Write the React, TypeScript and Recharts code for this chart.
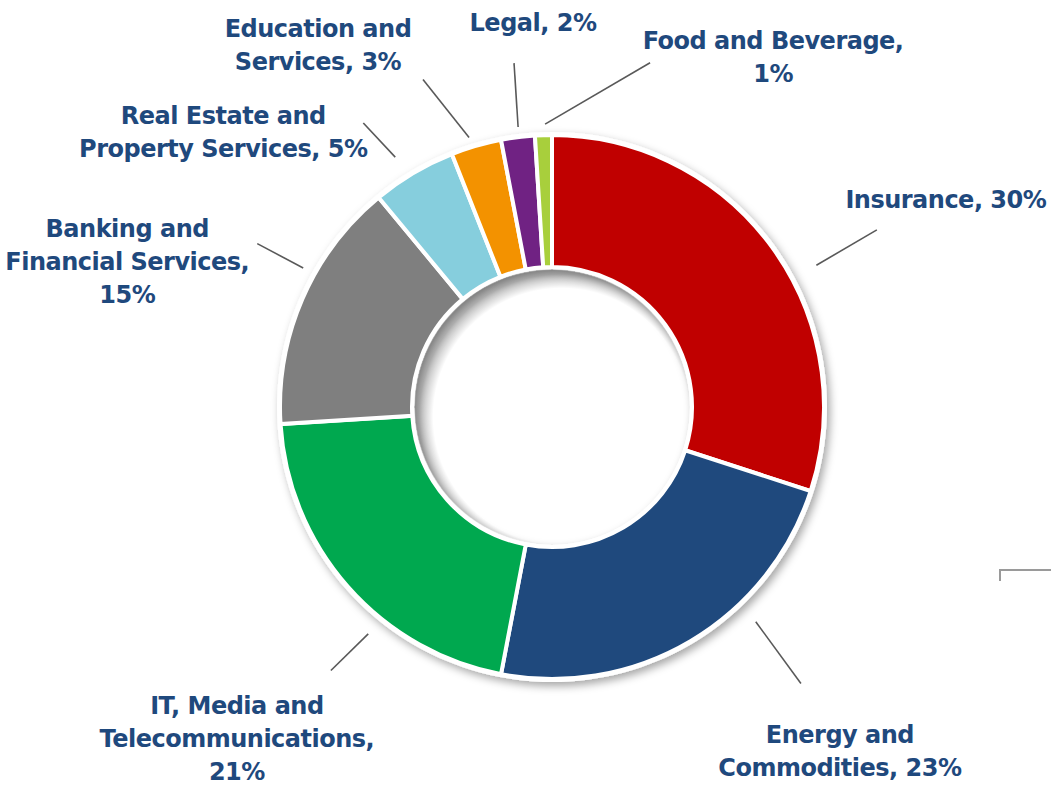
import { PieChart, Pie, Cell } from 'recharts'

const sectors = [
  'Insurance',
  'Energy and Commodities',
  'IT, Media and Telecommunications',
  'Banking and Financial Services',
  'Real Estate and Property Services',
  'Education and Services',
  'Legal',
  'Food and Beverage',
]
const shares = [30, 23, 21, 15, 5, 3, 2, 1]
// how Excel wrapped each label
const labelLines = [
  ['Insurance, 30%'],
  ['Energy and', 'Commodities, 23%'],
  ['IT, Media and', 'Telecommunications,', '21%'],
  ['Banking and', 'Financial Services,', '15%'],
  ['Real Estate and', 'Property Services, 5%'],
  ['Education and', 'Services, 3%'],
  ['Legal, 2%'],
  ['Food and Beverage,', '1%'],
]
const colors = ['#C00000', '#1F497D', '#00A84F', '#7F7F7F', '#86CEDD', '#F39200', '#702283', '#A8CF3C']

// leader lines: angle (deg clockwise from 12 o'clock) + gap beyond outer radius, text offset from line end
const leaders = [
  { a1: 61.8, g1: 28, a2: 61.4, g2: 98, dx: 69, dy: -30 },
  { a1: 136.5, g1: 24, a2: 138, g2: 100, dx: 39, dy: 68 },
  { a1: 219, g1: 20, a2: 220, g2: 72, dx: -94, dy: 68 },
  { a1: 299.2, g1: 13, a2: 299, g2: 65, dx: -130, dy: 18 },
  { a1: 327.9, g1: 23, a2: 326.4, g2: 69, dx: -140, dy: 10 },
  { a1: 342.9, g1: 10, a2: 338.5, g2: 80, dx: -105, dy: -34 },
  { a1: 353.1, g1: 10, a2: 353.7, g2: 74, dx: 19, dy: -40 },
  { a1: 358.6, g1: 11, a2: 15.9, g2: 86, dx: 123, dy: -5 },
]

const data = sectors.map((name, i) => ({ name, value: shares[i] }))
const ring = [{ name: 'ring', value: 1 }]

const LINE_H = 33

function polar(cx: number, cy: number, r: number, deg: number) {
  const rad = (deg * Math.PI) / 180
  return { x: cx + r * Math.sin(rad), y: cy - r * Math.cos(rad) }
}

function renderLabel(props: any) {
  const { cx, cy, outerRadius, index } = props
  const l = leaders[index]
  const p1 = polar(cx, cy, outerRadius + l.g1, l.a1)
  const p2 = polar(cx, cy, outerRadius + l.g2, l.a2)
  const lines = labelLines[index]
  const tx = p2.x + l.dx
  const ty = p2.y + l.dy - ((lines.length - 1) * LINE_H) / 2
  return (
    <g key={`lbl-${index}`}>
      <line x1={p1.x} y1={p1.y} x2={p2.x} y2={p2.y} stroke="#595959" strokeWidth={1.6} />
      <text
        x={tx}
        y={ty}
        textAnchor="middle"
        dominantBaseline="central"
        fill="#1F497D"
        fontFamily="'DejaVu Sans', sans-serif"
        fontWeight="bold"
        fontSize={24}
        letterSpacing={-0.5}
      >
        {lines.map((t, j) => (
          <tspan key={j} x={tx} y={ty + j * LINE_H} dominantBaseline="central">
            {t}
          </tspan>
        ))}
      </text>
    </g>
  )
}

export default function App() {
  return (
    <div style={{ position: 'absolute', left: 0, top: 0, width: 1051, height: 786, overflow: 'hidden', background: '#fff' }}>
      <PieChart width={1051} height={786} margin={{ top: 0, right: 0, bottom: 0, left: 0 }}>
        <defs>
          <filter id="ringShadow" x="-20%" y="-20%" width="140%" height="140%">
            <feDropShadow dx="3" dy="4" stdDeviation="4" floodColor="#000" floodOpacity="0.35" />
          </filter>
          <radialGradient id="holeShade" cx="0.535" cy="0.535" r="0.52">
            <stop offset="0.9" stopColor="#000" stopOpacity="0" />
            <stop offset="1" stopColor="#000" stopOpacity="0.28" />
          </radialGradient>
        </defs>
        <Pie
          data={ring}
          dataKey="value"
          cx={552}
          cy={407}
          innerRadius={138}
          outerRadius={275}
          startAngle={90}
          endAngle={-270}
          fill="#fff"
          stroke="none"
          style={{ filter: 'url(#ringShadow)' }}
          isAnimationActive={false}
        />
        <Pie
          data={data}
          dataKey="value"
          nameKey="name"
          cx={552}
          cy={407}
          innerRadius={140}
          outerRadius={272}
          startAngle={90}
          endAngle={-270}
          stroke="#fff"
          strokeWidth={4}
          label={renderLabel}
          labelLine={false}
          isAnimationActive={false}
        >
          {data.map((d, i) => (
            <Cell key={d.name} fill={colors[i]} />
          ))}
        </Pie>
        <Pie
          data={ring}
          dataKey="value"
          cx={552}
          cy={407}
          innerRadius={0}
          outerRadius={137}
          startAngle={90}
          endAngle={-270}
          fill="url(#holeShade)"
          stroke="none"
          isAnimationActive={false}
        />
      </PieChart>
      <div
        style={{
          position: 'absolute',
          left: 999,
          top: 569,
          width: 52,
          height: 10,
          borderLeft: '2px solid #9a9a9a',
          borderTop: '2px solid #9a9a9a',
        }}
      />
    </div>
  )
}
